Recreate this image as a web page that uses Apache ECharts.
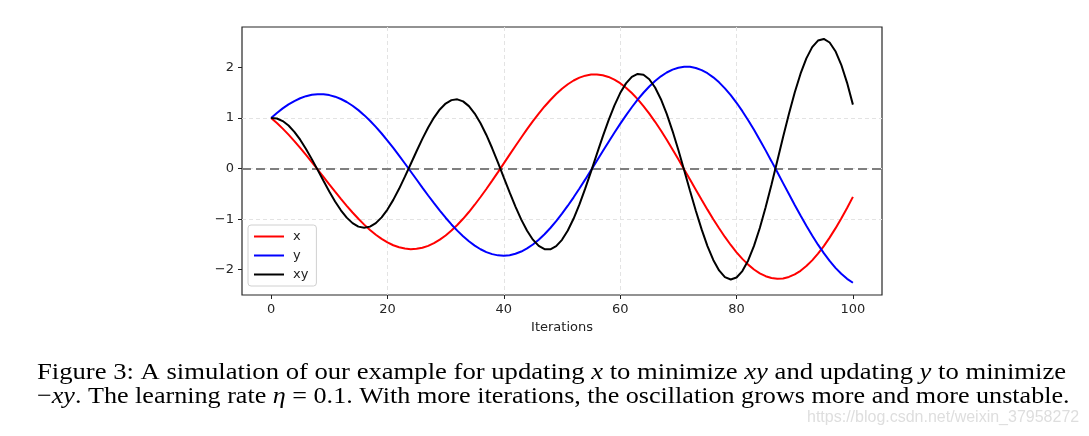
<!DOCTYPE html>
<html>
<head>
<meta charset="utf-8">
<script src="https://cdn.jsdelivr.net/npm/echarts@6/dist/echarts.min.js"></script>
<style>
  html, body { margin: 0; padding: 0; background: #fff; }
  #main { width: 1089px; height: 436px; }
</style>
</head>
<body>
<div id="main"></div>
<script>
    // one point per iteration
    var iters = [0, 1, 2, 3, 4, 5, 6, 7, 8, 9, 10, 11, 12, 13, 14, 15, 16, 17, 18, 19, 20,
        21, 22, 23, 24, 25, 26, 27, 28, 29, 30, 31, 32, 33, 34, 35, 36, 37, 38, 39, 40,
        41, 42, 43, 44, 45, 46, 47, 48, 49, 50, 51, 52, 53, 54, 55, 56, 57, 58, 59, 60,
        61, 62, 63, 64, 65, 66, 67, 68, 69, 70, 71, 72, 73, 74, 75, 76, 77, 78, 79, 80,
        81, 82, 83, 84, 85, 86, 87, 88, 89, 90, 91, 92, 93, 94, 95, 96, 97, 98, 99, 100];
    var xVals = [1.000, 0.900, 0.790, 0.671, 0.544, 0.411, 0.271, 0.128, -0.018, -0.165,
        -0.312, -0.457, -0.599, -0.737, -0.869, -0.993, -1.108, -1.214, -1.309, -1.391,
        -1.460, -1.516, -1.557, -1.582, -1.593, -1.587, -1.565, -1.528, -1.475, -1.406,
        -1.323, -1.226, -1.115, -0.993, -0.859, -0.715, -0.562, -0.403, -0.238, -0.069,
        0.103, 0.275, 0.447, 0.615, 0.779, 0.937, 1.087, 1.228, 1.357, 1.475,
        1.579, 1.668, 1.742, 1.798, 1.838, 1.859, 1.862, 1.846, 1.812, 1.760,
        1.689, 1.600, 1.495, 1.374, 1.237, 1.087, 0.925, 0.752, 0.569, 0.379,
        0.184, -0.016, -0.217, -0.418, -0.617, -0.812, -1.001, -1.181, -1.352, -1.511,
        -1.656, -1.786, -1.899, -1.995, -2.072, -2.128, -2.164, -2.179, -2.172, -2.143,
        -2.093, -2.021, -1.928, -1.815, -1.683, -1.533, -1.365, -1.183, -0.986, -0.778,
        -0.560];
    var yVals = [1.000, 1.100, 1.190, 1.269, 1.336, 1.391, 1.432, 1.459, 1.472, 1.470,
        1.453, 1.422, 1.376, 1.317, 1.243, 1.156, 1.057, 0.946, 0.824, 0.694,
        0.554, 0.408, 0.257, 0.101, -0.057, -0.216, -0.375, -0.532, -0.684, -0.832,
        -0.972, -1.105, -1.227, -1.339, -1.438, -1.524, -1.595, -1.652, -1.692, -1.716,
        -1.723, -1.712, -1.685, -1.640, -1.579, -1.501, -1.407, -1.298, -1.175, -1.040,
        -0.892, -0.734, -0.568, -0.393, -0.214, -0.030, 0.156, 0.342, 0.527, 0.708,
        0.884, 1.053, 1.213, 1.363, 1.500, 1.624, 1.732, 1.825, 1.900, 1.957,
        1.995, 2.013, 2.012, 1.990, 1.948, 1.886, 1.805, 1.705, 1.587, 1.452,
        1.301, 1.135, 0.957, 0.767, 0.567, 0.360, 0.147, -0.069, -0.287, -0.504,
        -0.719, -0.928, -1.130, -1.323, -1.505, -1.673, -1.826, -1.963, -2.081, -2.180,
        -2.257];
    var xyVals = [1.000, 0.990, 0.940, 0.852, 0.727, 0.571, 0.389, 0.187, -0.026, -0.242,
        -0.453, -0.650, -0.825, -0.970, -1.079, -1.148, -1.171, -1.148, -1.079, -0.965,
        -0.810, -0.619, -0.400, -0.160, 0.091, 0.343, 0.587, 0.812, 1.009, 1.170,
        1.286, 1.354, 1.369, 1.329, 1.235, 1.089, 0.897, 0.665, 0.402, 0.118,
        -0.178, -0.471, -0.752, -1.009, -1.230, -1.406, -1.529, -1.594, -1.596, -1.534,
        -1.409, -1.225, -0.988, -0.708, -0.392, -0.055, 0.291, 0.632, 0.955, 1.246,
        1.493, 1.685, 1.813, 1.872, 1.856, 1.766, 1.603, 1.372, 1.082, 0.742,
        0.366, -0.032, -0.437, -0.833, -1.203, -1.532, -1.807, -2.014, -2.145, -2.193,
        -2.154, -2.027, -1.817, -1.529, -1.175, -0.766, -0.318, 0.151, 0.624, 1.081,
        1.504, 1.876, 2.179, 2.402, 2.532, 2.564, 2.493, 2.321, 2.053, 1.696,
        1.265];
    var seriesNames = ['x', 'y', 'xy'];
    var seriesColors = ['#ff0000', '#0000ff', '#000000'];
    var xTicks = [0, 20, 40, 60, 80, 100];
    var yTicks = [-2, -1, 0, 1, 2];

    function pairs(vals) {
        return vals.map(function(v, i) {
            return [iters[i], v];
        });
    }

    var chart = echarts.init(document.getElementById('main'), null, { renderer: 'canvas' });

    var gridLine = {
        show: true,
        showMinLine: false,
        showMaxLine: false,
        lineStyle: {
            color: '#e3e3e3',
            type: [4, 3],
            width: 1
        }
    };

    var series = [xVals, yVals, xyVals].map(function(vals, i) {
        return {
            name: seriesNames[i],
            type: 'line',
            data: pairs(vals),
            smooth: false,
            symbol: 'none',
            lineStyle: { color: seriesColors[i], width: 2 },
            itemStyle: { color: seriesColors[i] },
            z: 3 + i
        };
    });
    // dashed zero line
    series[0].markLine = {
        silent: true,
        symbol: 'none',
        label: { show: false },
        lineStyle: { color: '#7f7f7f', type: [9, 5], width: 2 },
        data: [{ yAxis: 0 }],
        z: 2
    };

    var serif = '"Liberation Serif", "DejaVu Serif", serif';
    var capRich = {
        n: { fontFamily: serif, fontSize: 24, color: '#111' },
        i: { fontFamily: serif, fontSize: 24, fontStyle: 'italic', color: '#111' }
    };

    var option = {
        animation: false,
        backgroundColor: '#fff',
        grid: {
            left: 242,
            right: 207,
            top: 27,
            bottom: 141,
            show: true,
            borderColor: '#262626',
            borderWidth: 1.2,
            backgroundColor: 'transparent'
        },
        legend: {
            orient: 'vertical',
            left: 248,
            top: 225,
            padding: [5, 8, 5, 6],
            itemGap: 6,
            itemWidth: 30,
            itemHeight: 12,
            icon: 'path://M0,5 L30,5 L30,7 L0,7 Z',
            backgroundColor: 'rgba(255,255,255,0.85)',
            borderColor: '#d0d0d0',
            borderWidth: 1,
            borderRadius: 3,
            textStyle: { fontFamily: 'DejaVu Sans', fontSize: 13, color: '#222', padding: [0, 0, 0, 4] },
            data: seriesNames
        },
        xAxis: {
            type: 'value',
            min: -5,
            max: 105,
            splitNumber: 5,
            name: 'Iterations',
            nameLocation: 'middle',
            nameGap: 26,
            nameTextStyle: { fontFamily: 'DejaVu Sans', fontSize: 13, color: '#222' },
            axisLine: { show: false, onZero: false },
            axisTick: { show: true, inside: false, length: 4, customValues: xTicks, lineStyle: { color: '#222' } },
            axisLabel: {
                customValues: xTicks,
                margin: 8,
                fontFamily: 'DejaVu Sans',
                fontSize: 13,
                color: '#262626'
            },
            splitLine: gridLine
        },
        yAxis: {
            type: 'value',
            min: -2.5,
            max: 2.8,
            splitNumber: 5,
            axisLine: { show: false, onZero: false },
            axisTick: { show: true, inside: false, length: 4, customValues: yTicks, lineStyle: { color: '#222' } },
            axisLabel: {
                customValues: yTicks,
                margin: 8,
                fontFamily: 'DejaVu Sans',
                fontSize: 13,
                color: '#262626',
                formatter: function(v) {
                    return String(v).replace('-', '\u2212');
                }
            },
            splitLine: gridLine
        },
        series: series,
        graphic: [{
            type: 'text',
            x: 37,
            y: 361,
            scaleX: 1.11,
            style: {
                text: '{n|Figure 3: A simulation of our example for updating }{i|x}{n| to minimize }{i|xy}{n| and updating }{i|y}{n| to minimize}',
                rich: capRich,
                verticalAlign: 'top'
            }
        }, {
            type: 'text',
            x: 37,
            y: 385,
            scaleX: 1.088,
            style: {
                text: '{n|\u2212}{i|xy}{n|. The learning rate }{i|\u03b7}{n| = 0.1. With more iterations, the oscillation grows more and more unstable.}',
                rich: capRich,
                verticalAlign: 'top'
            }
        }, {
            type: 'text',
            x: 807,
            y: 410,
            style: {
                text: 'https://blog.csdn.net/weixin_37958272',
                fontFamily: '"Liberation Sans Narrow", "Liberation Sans", sans-serif',
                fontSize: 16,
                fill: '#dedede',
                verticalAlign: 'top'
            }
        }]
    };

    chart.setOption(option);
</script>
</body>
</html>
